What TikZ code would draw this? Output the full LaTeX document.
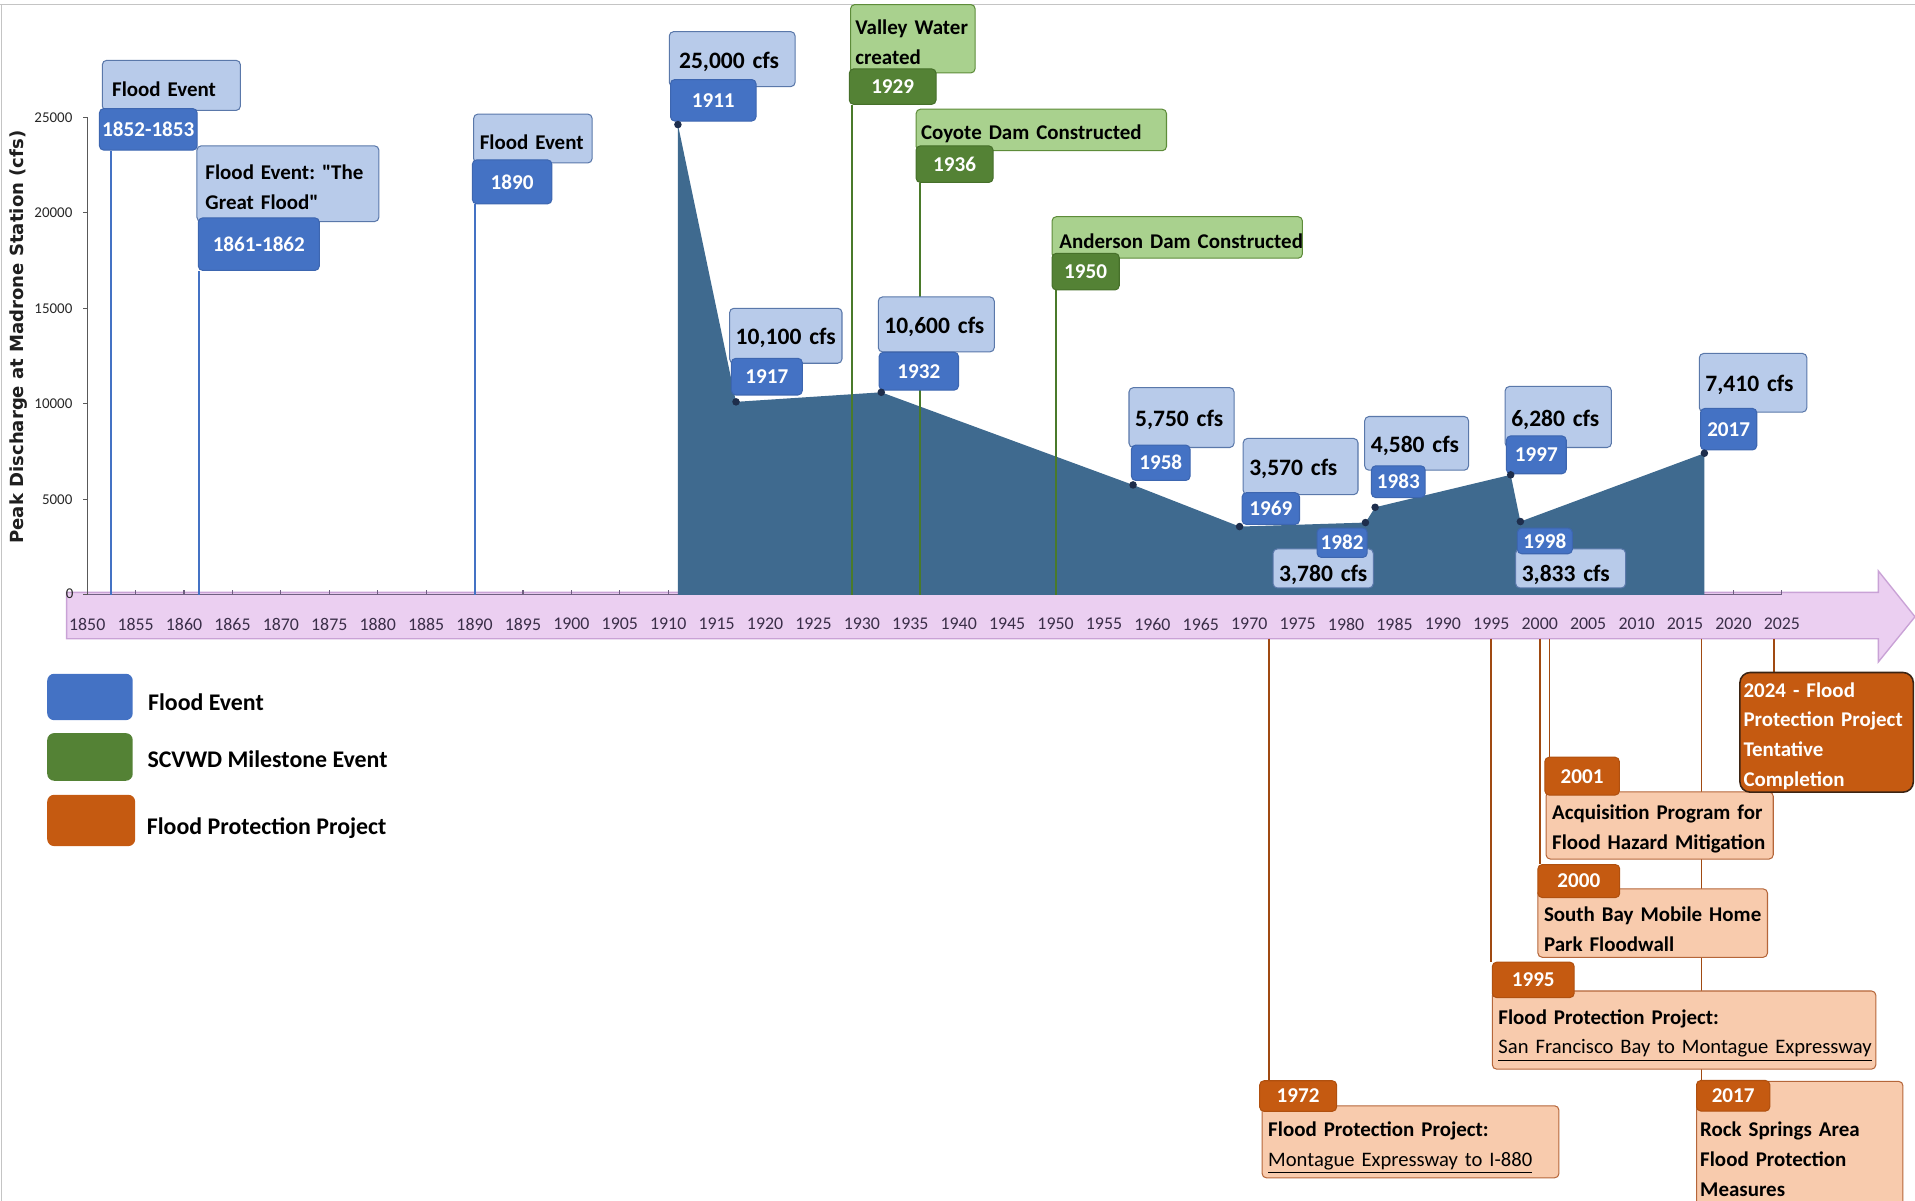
\documentclass[tikz,border=0pt]{standalone}
\usepackage{fontspec}
\setmainfont{Carlito}
\newfontfamily\rawq{Carlito}
\newfontfamily\titlefont{DejaVu Sans}
\usepackage{graphicx}
\usetikzlibrary{calc}

\definecolor{lblue}{HTML}{B8CBEA}
\definecolor{lbluedraw}{HTML}{5A78AA}
\definecolor{dblue}{HTML}{4472C4}
\definecolor{dbluedraw}{HTML}{3D66B0}
\definecolor{areafill}{HTML}{3F6A8F}
\definecolor{dotcol}{HTML}{1E2E4C}
\definecolor{lgreen}{HTML}{A9D18E}
\definecolor{lgreendraw}{HTML}{5E8C3A}
\definecolor{dgreen}{HTML}{548235}
\definecolor{dgreendraw}{HTML}{46702A}
\definecolor{greenline}{HTML}{4A7A2A}
\definecolor{lorange}{HTML}{F8CBAD}
\definecolor{lorangedraw}{HTML}{B5663A}
\definecolor{dorange}{HTML}{C55A11}
\definecolor{dorangedraw}{HTML}{B0500F}
\definecolor{odraw}{HTML}{3B2414}
\definecolor{orangeline}{HTML}{A04A12}
\definecolor{pinkfill}{HTML}{EBCFF1}
\definecolor{pinkdraw}{HTML}{C9A2D6}
\definecolor{axiscol}{HTML}{6F6080}
\definecolor{ticklab}{HTML}{3A2E48}
\definecolor{framecol}{HTML}{C4C4C4}

% x from year, y from discharge in thousands of cfs
\newcommand{\yrx}[1]{(71.4+(#1-1850)*7.929)}
\newcommand{\vy}[1]{(487-(#1)*15.64)}
\newcommand{\keep}[1]{\mbox{#1}}
\newcommand{\dq}{{\rawq\symbol{34}}}
\newcommand{\ulline}[1]{\mbox{\mdseries\fontsize{12.0}{17.4}\selectfont\underline{#1}}}

\newcommand{\descfont}{\bfseries\fontsize{12.2}{17.4}\selectfont}
\newcommand{\cfsfont}{\bfseries\fontsize{13.7}{17}\selectfont}
\newcommand{\yearfont}{\bfseries\fontsize{12.3}{15}\selectfont}
\newcommand{\tickfont}{\fontsize{10.4}{12}\selectfont}
\newcommand{\yaxfont}{\fontsize{8.7}{10}\selectfont}
\newcommand{\legfont}{\bfseries\fontsize{13.9}{16}\selectfont}

\pgfdeclarelayer{back}
\pgfdeclarelayer{mid}
\pgfdeclarelayer{front}
\pgfsetlayers{back,mid,main,front}

\tikzset{
  boxbase/.style={rounded corners=2.5pt, line width=0.6pt, anchor=north west, inner ysep=0pt},
  lifted/.style={execute at begin node={\rule{0pt}{#1}}},
  lb/.style 2 args={boxbase, fill=lblue, draw=lbluedraw, text=black,
     text width={(#1-10)*0.025cm}, inner xsep={5*0.025cm},
     minimum height={#2*0.025cm}, align=left, font=\descfont, lifted=12.5pt},
  lbc/.style 2 args={lb={#1}{#2}, font=\cfsfont},
  yb/.style 2 args={boxbase, fill=dblue, draw=dbluedraw, text=white,
     minimum width={#1*0.025cm}, minimum height={#2*0.025cm}, inner xsep=0pt, font=\yearfont},
  lg/.style 2 args={boxbase, fill=lgreen, draw=lgreendraw, text=black,
     text width={(#1-8)*0.025cm}, inner xsep={4*0.025cm},
     minimum height={#2*0.025cm}, align=left, font=\descfont, lifted=12.5pt},
  yg/.style 2 args={boxbase, fill=dgreen, draw=dgreendraw, text=white,
     minimum width={#1*0.025cm}, minimum height={#2*0.025cm}, inner xsep=0pt, font=\yearfont},
  lo/.style 2 args={boxbase, fill=lorange, draw=lorangedraw, text=black,
     text width={(#1-10)*0.025cm}, inner xsep={5*0.025cm},
     minimum height={#2*0.025cm}, align=left, font=\descfont, lifted=13pt},
  yo/.style 2 args={boxbase, fill=dorange, draw=dorangedraw, text=white,
     minimum width={#1*0.025cm}, minimum height={#2*0.025cm}, inner xsep=0pt, font=\yearfont},
  od/.style 2 args={boxbase, rounded corners=6pt, fill=dorange, draw=odraw, line width=0.9pt, text=white,
     text width={(#1-6)*0.025cm}, inner xsep={3*0.025cm},
     minimum height={#2*0.025cm}, align=left, font=\descfont, lifted=12.5pt},
  bline/.style={draw=dblue, line width=1.2pt},
  gline/.style={draw=greenline, line width=1.2pt},
  oline/.style={draw=orangeline, line width=1.1pt},
  legsq/.style={anchor=north west, rounded corners=4pt, inner sep=0pt,
     minimum width={70*0.025cm}, minimum height={38*0.025cm}},
  leglab/.style={anchor=base west, font=\legfont, text=black, inner sep=0pt},
  ticklabel/.style={font=\tickfont, text=ticklab, inner sep=0pt},
  ylabel/.style={anchor=east, font=\yaxfont, text=black!85, inner sep=0pt},
  dot/.style={fill=dotcol}
}

\begin{document}
\frenchspacing
\begin{tikzpicture}[x=0.025cm, y=-0.025cm]
\useasboundingbox (0,0) rectangle (1568,983);

% ---------- named coordinates ----------
\coordinate (b1852) at ({\yrx{1852.5}},487);
\coordinate (b1861) at ({\yrx{1861.5}},487);
\coordinate (b1890) at ({\yrx{1890}},487);
\coordinate (g1929) at ({\yrx{1929}},487);
\coordinate (g1936) at ({\yrx{1936}},487);
\coordinate (g1950) at ({\yrx{1950}},487);
\coordinate (o1972) at ({\yrx{1972}},523);
\coordinate (o1995) at ({\yrx{1995}},523);
\coordinate (o2000) at ({\yrx{2000}},523);
\coordinate (o2001) at ({\yrx{2001}},523);
\coordinate (o2017) at ({\yrx{2016.7}},523);
\coordinate (o2024) at ({\yrx{2024.2}},523);
\coordinate (a1911) at ({\yrx{1911}},487);
\coordinate (a2017) at ({\yrx{2017}},487);
\coordinate (p1911) at ({\yrx{1911}},102);
\coordinate (p1917) at ({\yrx{1917}},{\vy{10.1}});
\coordinate (p1932) at ({\yrx{1932}},{\vy{10.6}});
\coordinate (p1958) at ({\yrx{1958}},{\vy{5.75}});
\coordinate (p1969) at ({\yrx{1969}},{\vy{3.57}});
\coordinate (p1982) at ({\yrx{1982}},{\vy{3.78}});
\coordinate (p1983) at ({\yrx{1983}},{\vy{4.58}});
\coordinate (p1997) at ({\yrx{1997}},{\vy{6.28}});
\coordinate (p1998) at ({\yrx{1998}},{\vy{3.833}});
\coordinate (p2017) at ({\yrx{2017}},{\vy{7.41}});

% ---------- background: frame, arrow, axes, area ----------
\begin{pgfonlayer}{back}
\draw[framecol, line width=0.8pt] (0,3.5) -- (1568,3.5);
\draw[framecol, line width=0.8pt] (1,3.5) -- (1,983);
\filldraw[fill=pinkfill, draw=pinkdraw, line width=0.8pt]
  (54.6,485) -- (1538,485) -- (1538,467.5) -- (1568,505) -- (1538,542) -- (1538,523) -- (54.6,523) -- cycle;
\draw[axiscol, line width=0.8pt] (71.4,487) -- ({\yrx{2025}},487);
\foreach \yr in {1855,1860,...,2025} \draw[axiscol, line width=0.7pt] ({\yrx{\yr}},487) -- ++(0,-4);
\draw[black!65, line width=0.8pt] (71.4,96) -- (71.4,487);
\foreach \v in {0,5,10,15,20,25} \draw[black!65, line width=0.7pt] (71.4,{\vy{\v}}) -- ++(-3.5,0);
\fill[areafill] (a1911) -- (p1911) -- (p1917) -- (p1932) -- (p1958) -- (p1969) -- (p1982)
   -- (p1983) -- (p1997) -- (p1998) -- (p2017) -- (a2017) -- cycle;
\end{pgfonlayer}

% ---------- axis labels ----------
\foreach \yr in {1850,1855,...,2025} \node[ticklabel] (t\yr) at ({\yrx{\yr}},511) {\yr};
\foreach \v/\lab in {5/5000,10/10000,15/15000,20/20000,25/25000} \node[ylabel] (yl\v) at (59.5,{\vy{\v}}) {\lab};
\node[font=\yaxfont, text=black!85, inner sep=0pt] (yl0) at (57,486) {0};
\node[rotate=90, font=\titlefont\bfseries, text=black!88, inner sep=0pt] (ytitle) at (15,276)
  {\resizebox{8.45cm}{!}{Peak Discharge at Madrone Station (cfs)}};

% ---------- flood events (blue) ----------
\node[lb={113}{41}, inner xsep={8*0.025cm}, text width={97*0.025cm}] (l1) at (83.4,49) {\keep{Flood Event}};
\node[yb={80}{34}] (y1) at (81,88.5) {1852-1853};
\node[lb={149}{62}, inner xsep={7*0.025cm}, text width={135*0.025cm}] (l2) at (160.8,119) {\keep{Flood Event: \dq The}\\\keep{Great Flood\dq}};
\node[yb={99}{43}] (y2) at (162,178) {1861-1862};
\node[lb={97}{40}] (l3) at (387.4,93) {\keep{Flood Event}};
\node[yb={65}{36}] (y3) at (386.4,130.5) {1890};
\node[lbc={103}{45}, inner xsep={8*0.025cm}, text width={87*0.025cm}] (l4) at (547.6,25.5) {\keep{25,000 cfs}};
\node[yb={70}{34}] (y4) at (548.6,64.7) {1911};
\node[lbc={92}{45}] (l5) at (597,252) {\keep{10,100 cfs}};
\node[yb={58}{30}] (y5) at (598.5,293) {1917};
\node[lbc={95}{45}] (l6) at (718.7,242.7) {\keep{10,600 cfs}};
\node[yb={65}{31}] (y6) at (719.4,288) {1932};
\node[lbc={86}{49}] (l7) at (924,317) {\keep{5,750 cfs}};
\node[yb={48}{29}] (y7) at (926,364) {1958};
\node[lbc={94}{46}] (l8) at (1017.5,358.6) {\keep{3,570 cfs}};
\node[yb={47}{26}] (y8) at (1016.6,403) {1969};
\node[lbc={82}{32}, lifted=17pt] (l9) at (1042,449) {\keep{3,780 cfs}};
\node[yb={41}{24}] (y9) at (1078,432) {1982};
\node[lbc={85}{44}] (l10) at (1117,340.6) {\keep{4,580 cfs}};
\node[yb={44}{26}] (y10) at (1122.5,381) {1983};
\node[lbc={87}{50}, lifted=10pt] (l11) at (1232,316) {\keep{6,280 cfs}};
\node[yb={49}{31}] (y11) at (1233,356.5) {1997};
\node[lbc={90}{32}, lifted=17pt] (l12) at (1240.6,449) {\keep{3,833 cfs}};
\node[yb={45}{21}] (y12) at (1242,432) {1998};
\node[lbc={88}{48}] (l13) at (1391,289) {\keep{7,410 cfs}};
\node[yb={46}{34}] (y13) at (1392,334) {2017};

% ---------- milestones (green) ----------
\node[lg={102}{56}] (g1) at (696,3.3) {\keep{Valley Water}\\\keep{created}};
\node[yg={71}{29}] (gy1) at (695,56) {1929};
\node[lg={205}{34}] (g2) at (749.7,89) {\keep{Coyote Dam Constructed}};
\node[yg={63}{30}] (gy2) at (749.7,119) {1936};
\node[lg={205}{34}, inner xsep={6*0.025cm}, text width={193*0.025cm}] (g3) at (861,177) {\keep{Anderson Dam Constructed}};
\node[yg={55}{30}] (gy3) at (861,207) {1950};

% ---------- flood protection projects (orange) ----------
\node[lo={243}{59}, lifted=15pt] (ol1) at (1033,905) {\keep{Flood Protection Project:}\\\ulline{Montague Expressway to I-880}};
\node[yo={63}{25}] (oy1) at (1031,884.5) {1972};
\node[lo={314}{64}, lifted=14.5pt] (ol2) at (1221.5,811) {\keep{Flood Protection Project:}\\\ulline{San Francisco Bay to Montague Expressway}};
\node[yo={67}{29}] (oy2) at (1221.5,787.4) {1995};
\node[lo={188}{56}, lifted=16pt] (ol3) at (1258.8,727.4) {\keep{South Bay Mobile Home}\\\keep{Park Floodwall}};
\node[yo={67}{27}] (oy3) at (1258.8,707.5) {2000};
\node[lo={186}{55}, lifted=12pt] (ol4) at (1265.5,648) {\keep{Acquisition Program for}\\\keep{Flood Hazard Mitigation}};
\node[yo={61}{31}] (oy4) at (1264.5,619.6) {2001};
\node[lo={169}{121}, inner xsep={3*0.025cm}, text width={163*0.025cm}, lifted=9pt] (ol5) at (1388.7,885) {\keep{Rock Springs Area}\\\keep{Flood Protection}\\\keep{Measures}};
\node[yo={60}{25}] (oy5) at (1388.7,884.3) {2017};
\node[od={142}{98}, lifted=13pt] (ob) at (1424,550) {\keep{2024 - Flood}\\\keep{Protection Project}\\\keep{Tentative}\\\keep{Completion}};

% ---------- connectors ----------
\begin{pgfonlayer}{mid}
\draw[bline] (b1852) -- (b1852 |- y1.south);
\draw[bline] (b1861) -- (b1861 |- y2.south);
\draw[bline] (b1890) -- (b1890 |- y3.south);
\draw[gline] (g1929) -- (g1929 |- gy1.south);
\draw[gline] (g1936) -- (g1936 |- gy2.south);
\draw[gline] (g1950) -- (g1950 |- gy3.south);
\draw[oline] (o1972) -- (o1972 |- oy1.north);
\draw[oline] (o1995) -- (o1995 |- oy2.north);
\draw[oline] (o2000) -- (o2000 |- oy3.north);
\draw[oline] (o2001) -- (o2001 |- oy4.north);
\draw[oline] (o2017) -- (o2017 |- oy5.north);
\draw[oline] (o2024) -- (o2024 |- ob.north);
\end{pgfonlayer}

% ---------- data points ----------
\begin{pgfonlayer}{front}
\foreach \p in {p1911,p1917,p1932,p1958,p1969,p1982,p1983,p1997,p1998,p2017}
  \fill[dot] (\p) circle (2.2pt);
\end{pgfonlayer}

% ---------- legend ----------
\node[legsq, fill=dblue] (lgb) at (38.4,551.4) {};
\node[legsq, fill=dgreen, minimum height={39*0.025cm}] (lgg) at (38.4,600) {};
\node[legsq, fill=dorange, minimum width={72*0.025cm}, minimum height={42*0.025cm}] (lgo) at (38.4,650.5) {};
\node[leglab] (lgbt) at (121,581.7) {Flood Event};
\node[leglab] (lggt) at (120.5,628.6) {SCVWD Milestone Event};
\node[leglab] (lgot) at (120,683.3) {Flood Protection Project};
\end{tikzpicture}
\end{document}
